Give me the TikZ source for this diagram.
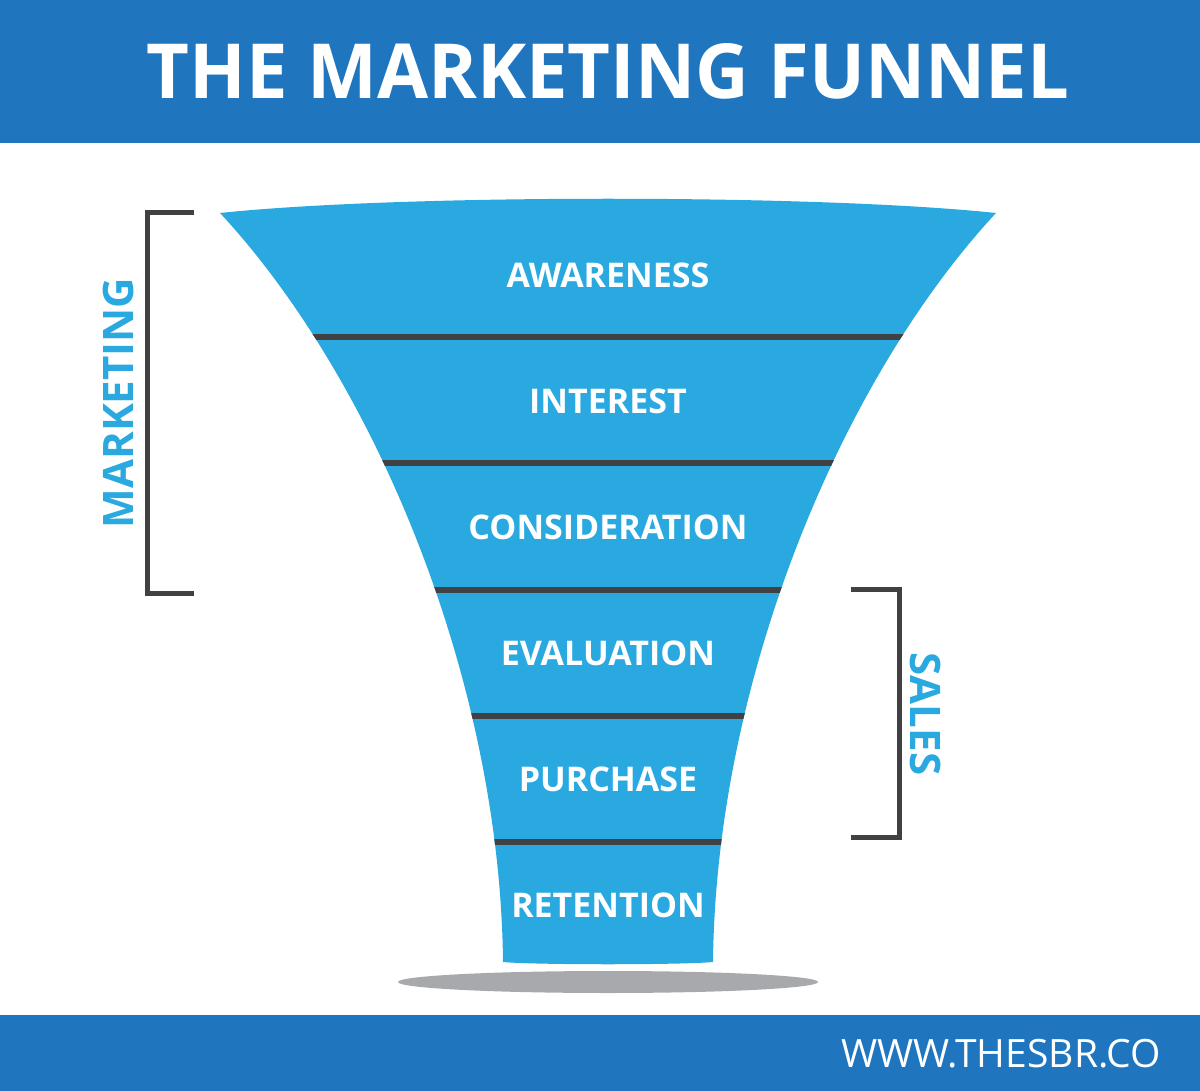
\documentclass[tikz,border=0pt]{standalone}
\usepackage{fontspec}
\setmainfont{Open Sans}
\definecolor{bandblue}{HTML}{1F75BE}
\definecolor{funnelblue}{HTML}{29A9E0}
\definecolor{darkline}{HTML}{414042}
\definecolor{shadowgray}{HTML}{A7A9AC}
\tikzset{
  stagelabel/.style={text=white, font=\fontsize{34}{34}\selectfont\bfseries, anchor=center, inner sep=0pt},
  sidelabel/.style={text=funnelblue, font=\fontsize{42}{42}\selectfont\bfseries, anchor=center, inner sep=0pt},
  bracketline/.style={draw=darkline, line width=5pt},
  divider/.style={draw=darkline, line width=6.5pt}
}
\begin{document}
\begin{tikzpicture}[x=1pt,y=-1pt]
\useasboundingbox (0,0) rectangle (1200,1091);
\fill[white] (0,0) rectangle (1200,1091);
% header
\fill[bandblue] (0,0) rectangle (1200,143);
\node[text=white, font=\fontsize{76}{76}\selectfont\bfseries, inner sep=0pt] (title) at (608,71) {\scalebox{0.975}[1]{THE MARKETING FUNNEL}};
% footer
\fill[bandblue] (0,1015) rectangle (1200,1091);
\node[text=white, font=\fontsize{39}{39}\selectfont, inner sep=0pt, anchor=east] (url) at (1161,1054) {WWW.THESBR.CO};
% shadow
\fill[shadowgray] (608,982) ellipse [x radius=210, y radius=11];
% funnel
\def\funnelpath{
  (220,213) .. controls (400,194) and (816,194) .. (996,213)
  .. controls (841,380) and (716,680) .. (713,962)
  .. controls (680,965) and (536,965) .. (503,962)
  .. controls (500,680) and (375,380) .. (220,213) -- cycle}
\fill[funnelblue] \funnelpath;
\begin{scope}
  \clip \funnelpath;
  \foreach \yy in {337,463,590,716,842} {
    \draw[divider] (200,\yy) -- (1000,\yy);
  }
\end{scope}
% stage labels
\node[stagelabel] (awareness) at (608,275) {AWARENESS};
\node[stagelabel] (interest) at (608,401) {INTEREST};
\node[stagelabel] (consideration) at (608,527) {CONSIDERATION};
\node[stagelabel] (evaluation) at (608,653) {EVALUATION};
\node[stagelabel] (purchase) at (608,779) {PURCHASE};
\node[stagelabel] (retention) at (608,905) {RETENTION};
% marketing bracket
\draw[bracketline] (194,213) -- (147,213) -- (147,593) -- (194,593);
\node[sidelabel, rotate=90] (marketing) at (118,403) {MARKETING};
% sales bracket
\draw[bracketline] (851,589) -- (899,589) -- (899,837) -- (851,837);
\node[sidelabel, rotate=-90] (sales) at (925,714) {SALES};
\end{tikzpicture}
\end{document}
